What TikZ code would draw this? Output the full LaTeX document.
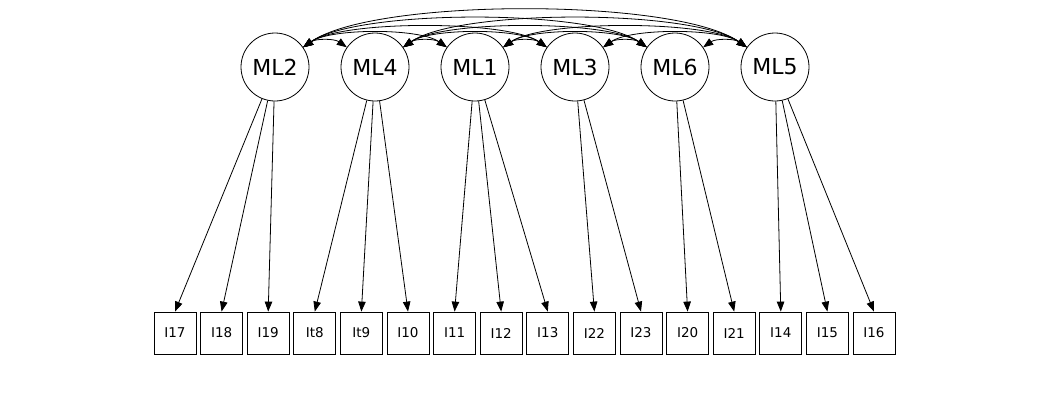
\documentclass[tikz,border=0pt]{standalone}
\usepackage{fontspec}
\setmainfont{DejaVu Sans}
\usetikzlibrary{arrows.meta}
\begin{document}
\begin{tikzpicture}[x=1pt,y=-1pt,
  latent/.style={circle,draw,line width=0.8pt,minimum size=68pt,inner sep=0pt,font=\fontsize{22}{24}\selectfont},
  manifest/.style={rectangle,draw,line width=0.8pt,minimum width=42pt,minimum height=42pt,inner sep=0pt,font=\fontsize{13.5}{15}\selectfont},
  tipk/.style={-{Triangle[length=10pt,width=7.5pt]},line width=0.8pt},
  covk/.style={{Triangle[length=10pt,width=7.5pt]}-{Triangle[length=10pt,width=7.5pt]},line width=0.8pt}]
\useasboundingbox (0,0) rectangle (1050,400);
% latent
\node[latent] (ML2) at (275,67) {ML2};
\node[latent] (ML4) at (375,67) {ML4};
\node[latent] (ML1) at (475,67) {ML1};
\node[latent] (ML3) at (575,67) {ML3};
\node[latent] (ML6) at (675,67) {ML6};
\node[latent] (ML5) at (775,67) {ML5};
% manifest
\node[manifest] (I17) at (175,333) {I17};
\node[manifest] (I18) at (221.6,333) {I18};
\node[manifest] (I19) at (268.2,333) {I19};
\node[manifest] (It8) at (314.8,333) {It8};
\node[manifest] (It9) at (361.4,333) {It9};
\node[manifest] (I10) at (408,333) {I10};
\node[manifest] (I11) at (454.6,333) {I11};
\node[manifest] (I12) at (501.2,333) {I12};
\node[manifest] (I13) at (547.8,333) {I13};
\node[manifest] (I22) at (594.4,333) {I22};
\node[manifest] (I23) at (641,333) {I23};
\node[manifest] (I20) at (687.6,333) {I20};
\node[manifest] (I21) at (734.2,333) {I21};
\node[manifest] (I14) at (780.8,333) {I14};
\node[manifest] (I15) at (827.4,333) {I15};
\node[manifest] (I16) at (874,333) {I16};
% loadings
\foreach \l/\m in {ML2/I17,ML2/I18,ML2/I19,ML4/It8,ML4/It9,ML4/I10,ML1/I11,ML1/I12,ML1/I13,ML3/I22,ML3/I23,ML6/I20,ML6/I21,ML5/I14,ML5/I15,ML5/I16}
  \draw[tipk] (\l) -- (\m.north);
% covariances
\foreach \a/\b/\lo in {ML2/ML4/0.9,ML2/ML1/0.6,ML2/ML3/0.5,ML2/ML6/0.5,ML2/ML5/0.5,
  ML4/ML1/0.9,ML4/ML3/0.6,ML4/ML6/0.5,ML4/ML5/0.5,
  ML1/ML3/0.9,ML1/ML6/0.6,ML1/ML5/0.5,
  ML3/ML6/0.9,ML3/ML5/0.6,
  ML6/ML5/0.9}
  \draw[covk] (\a) to[out=35,in=145,looseness=\lo] (\b);
\end{tikzpicture}
\end{document}
